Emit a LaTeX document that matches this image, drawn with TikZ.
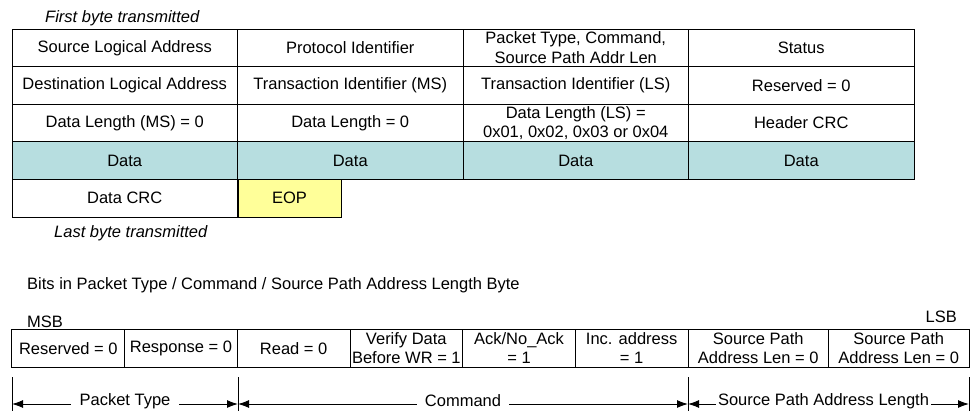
\documentclass[tikz,border=0pt]{standalone}
\usepackage{fontspec}
\setmainfont{Liberation Sans}
\usetikzlibrary{arrows.meta}
\definecolor{datablue}{HTML}{B7DEE0}
\definecolor{eopyellow}{HTML}{FFFF99}
\tikzset{
  txt/.style={font=\fontsize{16.5}{19.5}\selectfont},
  cell/.style={txt, draw, line width=1pt, minimum width=225.5pt, minimum height=37.6pt, inner sep=0pt, align=center},
  datacell/.style={cell, fill=datablue},
  eopcell/.style={cell, fill=eopyellow, minimum width=103pt},
  bitcell/.style={cell, minimum width=112.67pt, minimum height=37.5pt},
  srccell/.style={cell, minimum width=140.5pt, minimum height=37.5pt},
  note/.style={txt, inner sep=0pt},
  tick/.style={line width=1pt},
  span/.style={line width=1pt, {Latex[length=11pt,width=8pt]}-{Latex[length=11pt,width=8pt]}},
  spanlbl/.style={txt, fill=white, inner ysep=1pt, yshift=3pt}
}
\begin{document}
\begin{tikzpicture}[x=1pt,y=-1pt]
            \useasboundingbox (0,0) rectangle (971,410);
            \node[note, anchor=west] at (45,18) (first) {\itshape First byte transmitted};
            \node[cell] at (124.75,47.8) (srcla) {Source Logical Address};
            \node[cell] at (350.25,47.8) (protid) {Protocol Identifier};
            \node[cell] at (575.75,47.8) (pktcmd) {Packet Type, Command,\\Source Path Addr Len};
            \node[cell] at (801.25,47.8) (status) {Status};
            \node[cell] at (124.75,85.4) (dstla) {Destination Logical Address};
            \node[cell] at (350.25,85.4) (tidms) {Transaction Identifier (MS)};
            \node[cell] at (575.75,85.4) (tidls) {Transaction Identifier (LS)};
            \node[cell] at (801.25,85.4) (resvd) {Reserved = 0};
            \node[cell] at (124.75,123) (dlms) {Data Length (MS) = 0};
            \node[cell] at (350.25,123) (dlmid) {Data Length = 0};
            \node[cell] at (575.75,123) (dlls) {Data Length (LS) =\\0x01, 0x02, 0x03 or 0x04};
            \node[cell] at (801.25,123) (hcrc) {Header CRC};
            \node[datacell] at (124.75,160.6) (data1) {Data};
            \node[datacell] at (350.25,160.6) (data2) {Data};
            \node[datacell] at (575.75,160.6) (data3) {Data};
            \node[datacell] at (801.25,160.6) (data4) {Data};
            \node[cell] at (124.75,198.2) (dcrc) {Data CRC};
            \node[eopcell] at (289.5,198.2) (eop) {EOP};
            \node[note, anchor=west] at (54,233) (last) {\itshape Last byte transmitted};

            \node[note, anchor=west] at (27,285) (bitstitle) {Bits in Packet Type / Command / Source Path Address Length Byte};
            \node[note, anchor=west] at (27,322) (msb) {MSB};
            \node[note, anchor=east] at (957,317) (lsb) {LSB};
            \node[bitcell] at (68.33,348.25) (b7) {Reserved = 0};
            \node[bitcell] at (181,348.25) (b6) {Response = 0};
            \node[bitcell] at (293.67,348.25) (b5) {Read = 0};
            \node[bitcell] at (406.33,348.25) (b4) {Verify Data\\Before WR = 1};
            \node[bitcell] at (519,348.25) (b3) {Ack/No\_Ack\\= 1};
            \node[bitcell] at (631.67,348.25) (b2) {Inc. address\\= 1};
            \node[srccell] at (758.25,348.25) (b1) {Source Path\\Address Len = 0};
            \node[srccell] at (898.75,348.25) (b0) {Source Path\\Address Len = 0};

            \coordinate (k0top) at (12,377);
            \coordinate (k1top) at (238,377);
            \coordinate (k2top) at (688,377);
            \coordinate (k3top) at (969,377);
            \coordinate (k0bot) at (12,412);
            \coordinate (k1bot) at (238,412);
            \coordinate (k2bot) at (688,412);
            \coordinate (k3bot) at (969,412);
            \coordinate (a0) at (12,404);
            \coordinate (a1) at (238,404);
            \coordinate (a2) at (688,404);
            \coordinate (a3) at (969,404);
            \draw[tick] (k0top) -- (k0bot);
            \draw[tick] (k1top) -- (k1bot);
            \draw[tick] (k2top) -- (k2bot);
            \draw[tick] (k3top) -- (k3bot);
            \draw[span] (a0) -- node[spanlbl, inner xsep=9pt] (pktlbl) {Packet Type} (a1);
            \draw[span] (a1) -- node[spanlbl, inner xsep=8pt] (cmdlbl) {Command} (a2);
            \draw[span] (a2) -- node[spanlbl, xshift=-5pt, inner xsep=2pt] (splbl) {Source Path Address Length} (a3);
        \end{tikzpicture}
\end{document}
